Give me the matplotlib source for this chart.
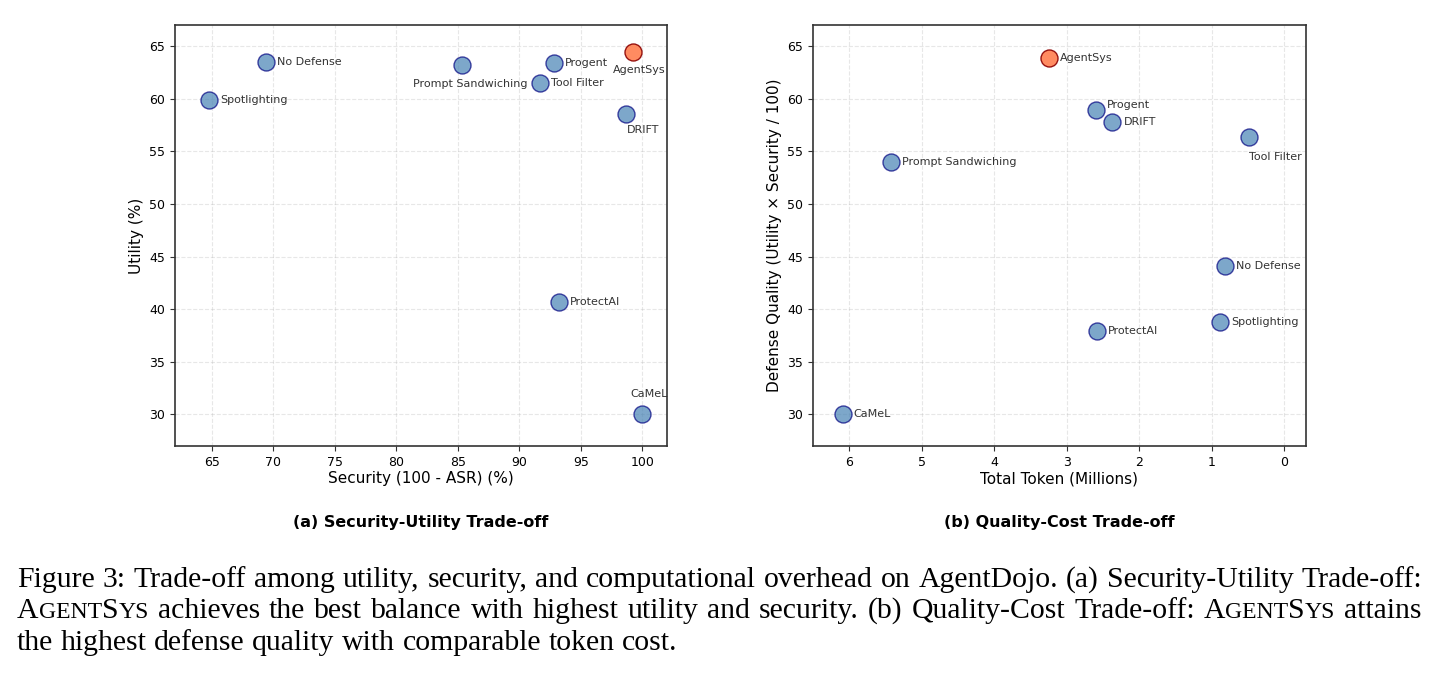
import matplotlib
matplotlib.use("Agg")
import matplotlib.pyplot as plt
from matplotlib.font_manager import FontProperties

# ---------------- data ----------------
methods = ["No Defense", "Spotlighting", "Prompt Sandwiching", "Progent", "AgentSys",
           "Tool Filter", "DRIFT", "ProtectAI", "CaMeL"]
security = [69.4, 64.8, 85.3, 92.8, 99.2, 91.7, 98.7, 93.2, 100.0]
utility = [63.5, 59.9, 63.2, 63.4, 64.4, 61.5, 58.5, 40.7, 30.0]
tokens_m = [0.82, 0.88, 5.43, 2.60, 3.25, 0.49, 2.37, 2.58, 6.09]
quality = [44.1, 38.8, 54.0, 58.9, 63.9, 56.4, 57.8, 37.9, 30.0]
highlight = "AgentSys"

left_xticks = [65, 70, 75, 80, 85, 90, 95, 100]
right_xticks = [6, 5, 4, 3, 2, 1, 0]
yticks = [30, 35, 40, 45, 50, 55, 60, 65]

# label placement: (dx, dy in points, ha)
left_offsets = {
    "No Defense": (8, 0, "left"), "Spotlighting": (8, 0, "left"),
    "Prompt Sandwiching": (6, -14, "center"), "Progent": (8, 0, "left"),
    "AgentSys": (5, -13, "center"), "Tool Filter": (8, 0, "left"),
    "DRIFT": (0, -11, "left"), "ProtectAI": (8, 0, "left"),
    "CaMeL": (5, 15, "center"),
}
right_offsets = {
    "No Defense": (8, 0, "left"), "Spotlighting": (8, 0, "left"),
    "Prompt Sandwiching": (8, 0, "left"), "Progent": (8, 4, "left"),
    "AgentSys": (8, 0, "left"), "Tool Filter": (0, -15, "left"),
    "DRIFT": (8, 0, "left"), "ProtectAI": (8, 0, "left"),
    "CaMeL": (8, 0, "left"),
}

W, H = 1440, 675
fig = plt.figure(figsize=(W / 100, H / 100), dpi=100)
plt.rcParams['font.family'] = ['DejaVu Sans']

ax1 = fig.add_axes([175 / W, 1 - 446 / H, 492 / W, 421 / H])
ax2 = fig.add_axes([813 / W, 1 - 446 / H, 493 / W, 421 / H])


def draw(ax, xs, ys, offsets):
    for m, x, y in zip(methods, xs, ys):
        if m == highlight:
            fc, ec, a = "#FF7F50", "darkred", 0.9
        else:
            fc, ec, a = "steelblue", "navy", 0.7
        ax.scatter([x], [y], s=150, c=fc, edgecolors=ec, linewidths=1.0,
                   alpha=a, zorder=3)
        dx, dy, ha = offsets[m]
        ax.annotate(m, (x, y), xytext=(dx, dy), textcoords="offset points",
                    ha=ha, va="center", fontsize=8, color="#333333", zorder=4)
    ax.grid(True, linestyle="--", alpha=0.3, zorder=0)
    ax.set_axisbelow(True)
    ax.set_yticks(yticks)
    ax.set_ylim(27, 67)
    for sp in ax.spines.values():
        sp.set_color("#333333")
        sp.set_linewidth(1.2)
    ax.tick_params(labelsize=9, colors="#333333", labelcolor="black", length=3.5)


draw(ax1, security, utility, left_offsets)
ax1.set_xlim(62.0, 102.0)
ax1.set_xticks(left_xticks)
ax1.set_xlabel("Security (100 - ASR) (%)", fontsize=11, labelpad=2)
ax1.set_ylabel("Utility (%)", fontsize=11)

draw(ax2, tokens_m, quality, right_offsets)
ax2.set_xlim(6.5, -0.3)
ax2.set_xticks(right_xticks)
ax2.set_xlabel("Total Token (Millions)", fontsize=11, labelpad=2)
ax2.set_ylabel("Defense Quality (Utility × Security / 100)", fontsize=11)

fig.text((175 + 667) / 2 / W, 1 - 523 / H, "(a) Security-Utility Trade-off",
         ha="center", va="center", fontsize=11.5, fontweight="bold")
fig.text((813 + 1306) / 2 / W, 1 - 523 / H, "(b) Quality-Cost Trade-off",
         ha="center", va="center", fontsize=11.5, fontweight="bold")

# ---------------- caption (justified, with small caps) ----------------
SC = 0.8
agentsys = [("A", 1), ("GENT", SC), ("S", 1), ("YS", SC)]
line1 = "Figure 3: Trade-off among utility, security, and computational overhead on AgentDojo. (a) Security-Utility Trade-off:"
line2a = "achieves the best balance with highest utility and security. (b) Quality-Cost Trade-off:"
line3 = "the highest defense quality with comparable token cost."


def words(s):
    return [[(w, 1)] for w in s.split()]


lines = [
    (words(line1), True),
    ([agentsys] + words(line2a) + [agentsys, [("attains", 1)]], True),
    (words(line3), False),
]
baselines = [587, 618, 650]
x_left, x_right = 17, 1422

fig.canvas.draw()
renderer = fig.canvas.get_renderer()
serif = "Liberation Serif"


def width(s, size):
    fp = FontProperties(family=serif, size=size)
    w, h, d = renderer.get_text_width_height_descent(s, fp, ismath=False)
    return w

base = 18.0
w3 = width(line3, base)
size = base * 662 / w3

for (ws, justify), yb in zip(lines, baselines):
    wlens = [sum(width(t, size * sc) for t, sc in w) for w in ws]
    if justify:
        gap = (x_right - x_left - sum(wlens)) / (len(ws) - 1)
    else:
        gap = width("a b", size) - width("ab", size)
    x = x_left
    for w, wl in zip(ws, wlens):
        xx = x
        for t, sc in w:
            fig.text(xx / W, 1 - yb / H, t, fontsize=size * sc, family=serif,
                     ha="left", va="baseline", color="black")
            xx += width(t, size * sc)
        x += wl + gap

fig.savefig("out.png", dpi=100)
